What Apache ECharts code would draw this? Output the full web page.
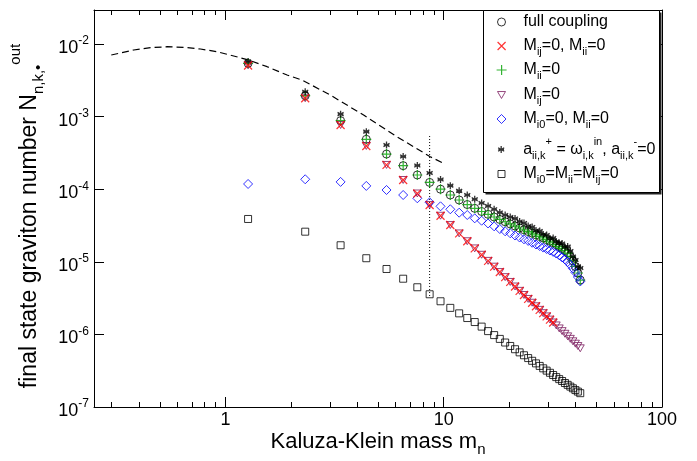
<!DOCTYPE html>
<html><head><meta charset="utf-8">
<script src="https://cdn.jsdelivr.net/npm/echarts@6/dist/echarts.min.js"></script>
<style>html,body{margin:0;padding:0;background:#fff}#c{width:697px;height:461px}</style>
</head><body><div id="c"></div>
<script>
// Kaluza-Klein masses m_n (n = 1..40)
const massN = [1.27, 2.32, 3.37, 4.42, 5.47, 6.52, 7.57, 8.62, 9.67, 10.72,
  11.77, 12.82, 13.87, 14.92, 15.97, 17.02, 18.07, 19.12, 20.17, 21.22,
  22.27, 23.32, 24.37, 25.42, 26.47, 27.52, 28.57, 29.62, 30.67, 31.72,
  32.77, 33.82, 34.87, 35.92, 36.97, 38.02, 39.07, 40.12, 41.17, 42.22];

// full coupling (open circles)
const fullCoupling = [5.42e-3, 1.94e-3, 8.79e-4, 4.87e-4, 3.05e-4, 2.11e-4, 1.57e-4, 1.24e-4, 1.0e-4, 8.32e-5,
  7.1e-5, 6.15e-5, 5.45e-5, 4.93e-5, 4.51e-5, 4.14e-5, 3.83e-5, 3.56e-5, 3.32e-5, 3.11e-5,
  2.92e-5, 2.76e-5, 2.61e-5, 2.48e-5, 2.35e-5, 2.23e-5, 2.13e-5, 2.02e-5, 1.92e-5, 1.83e-5,
  1.73e-5, 1.63e-5, 1.53e-5, 1.43e-5, 1.32e-5, 1.18e-5, 1.03e-5, 8.61e-6, 7.01e-6, 5.61e-6];
// M_ij=0, M_ii=0 (red x)
const mijMii0 = [5.06e-3, 1.79e-3, 7.66e-4, 3.94e-4, 2.16e-4, 1.34e-4, 8.73e-5, 6.06e-5, 4.31e-5, 3.21e-5,
  2.46e-5, 1.92e-5, 1.53e-5, 1.25e-5, 1.03e-5, 8.57e-6, 7.23e-6, 6.15e-6, 5.28e-6, 4.57e-6,
  3.98e-6, 3.49e-6, 3.08e-6, 2.73e-6, 2.44e-6, 2.18e-6, 1.96e-6, 1.77e-6, 1.60e-6, 1.46e-6];
// M_ii=0 (green +)
const mii0 = [5.40e-3, 1.94e-3, 8.79e-4, 4.87e-4, 3.05e-4, 2.11e-4, 1.57e-4, 1.24e-4, 1.0e-4, 8.32e-5,
  7.1e-5, 6.15e-5, 5.45e-5, 4.93e-5, 4.51e-5, 4.14e-5, 3.83e-5, 3.56e-5, 3.32e-5, 3.11e-5,
  2.92e-5, 2.76e-5, 2.61e-5, 2.48e-5, 2.35e-5, 2.23e-5, 2.13e-5, 2.02e-5, 1.92e-5, 1.83e-5,
  1.73e-5, 1.63e-5, 1.53e-5, 1.43e-5, 1.32e-5, 1.18e-5, 1.03e-5, 8.61e-6, 7.01e-6, 5.61e-6];
// M_ij=0 (purple triangles)
const mij0 = [5.10e-3, 1.79e-3, 7.66e-4, 3.94e-4, 2.16e-4, 1.34e-4, 8.73e-5, 6.06e-5, 4.31e-5, 3.21e-5,
  2.46e-5, 1.92e-5, 1.53e-5, 1.25e-5, 1.03e-5, 8.57e-6, 7.23e-6, 6.15e-6, 5.28e-6, 4.57e-6,
  3.98e-6, 3.49e-6, 3.08e-6, 2.73e-6, 2.44e-6, 2.18e-6, 1.96e-6, 1.77e-6, 1.60e-6, 1.46e-6,
  1.33e-6, 1.21e-6, 1.11e-6, 1.02e-6, 9.41e-7, 8.69e-7, 8.04e-7, 7.45e-7, 6.92e-7, 6.44e-7];
// M_i0=0, M_ii=0 (blue diamonds)
const mi0Mii0 = [1.18e-4, 1.37e-4, 1.26e-4, 1.11e-4, 9.75e-5, 8.32e-5, 7.5e-5, 6.6e-5, 5.81e-5, 5.29e-5,
  4.75e-5, 4.41e-5, 3.97e-5, 3.68e-5, 3.37e-5, 3.08e-5, 2.83e-5, 2.63e-5, 2.47e-5, 2.30e-5,
  2.16e-5, 2.04e-5, 1.94e-5, 1.83e-5, 1.73e-5, 1.65e-5, 1.57e-5, 1.50e-5, 1.43e-5, 1.37e-5,
  1.30e-5, 1.23e-5, 1.15e-5, 1.08e-5, 9.94e-6, 9.04e-6, 8.09e-6, 7.13e-6, 6.18e-6, 5.36e-6];
// a+ = omega_in, a- = 0 (asterisks)
const aPlus = [5.74e-3, 2.20e-3, 1.08e-3, 6.2e-4, 4.06e-4, 2.82e-4, 2.12e-4, 1.67e-4, 1.36e-4, 1.12e-4,
  9.5e-5, 8.32e-5, 7.28e-5, 6.45e-5, 5.87e-5, 5.29e-5, 4.78e-5, 4.41e-5, 4.14e-5, 3.95e-5,
  3.59e-5, 3.42e-5, 3.11e-5, 3.01e-5, 2.70e-5, 2.65e-5, 2.38e-5, 2.34e-5, 2.09e-5, 2.13e-5,
  1.90e-5, 1.82e-5, 1.79e-5, 1.60e-5, 1.62e-5, 1.41e-5, 1.18e-5, 1.06e-5, 8.6e-6, 8.22e-6];
// M_i0=M_ii=M_ij=0 (squares)
const allZero = [3.89e-5, 2.60e-5, 1.69e-5, 1.12e-5, 7.96e-6, 5.85e-6, 4.46e-6, 3.57e-6, 2.86e-6, 2.32e-6,
  1.95e-6, 1.68e-6, 1.48e-6, 1.28e-6, 1.11e-6, 9.78e-7, 8.67e-7, 7.73e-7, 6.93e-7, 6.25e-7,
  5.66e-7, 5.16e-7, 4.72e-7, 4.33e-7, 3.99e-7, 3.68e-7, 3.41e-7, 3.17e-7, 2.96e-7, 2.76e-7,
  2.58e-7, 2.42e-7, 2.28e-7, 2.14e-7, 2.02e-7, 1.91e-7, 1.81e-7, 1.71e-7, 1.63e-7, 1.55e-7];

// dashed curve
const dashedM = [0.30, 0.38, 0.454, 0.541, 0.645, 0.768, 0.916, 1.091, 1.278, 1.552, 1.916, 2.244, 3.023, 4.295, 6.107, 8.677, 9.98];
const dashedN = [7.05e-3, 8.27e-3, 8.89e-3, 9.18e-3, 9.01e-3, 8.53e-3, 7.83e-3, 6.84e-3, 6.02e-3, 4.87e-3, 3.74e-3, 3.19e-3, 1.98e-3, 1.05e-3, 5.28e-4, 2.80e-4, 2.27e-4];
// dotted vertical line
const dottedM = [8.62, 8.62];
const dottedN = [5.4e-4, 3.3e-6];

// axis ticks
const xMinorTicks = [0.3, 0.4, 0.5, 0.6, 0.7, 0.8, 0.9, 2, 3, 4, 5, 6, 7, 8, 9, 20, 30, 40, 50, 60, 70, 80, 90];
const X_MIN = 0.25, X_MAX = 100, Y_MIN = 1e-7, Y_MAX = 0.0294;

const FONT = '"Liberation Sans", Arial, Helvetica, sans-serif';
const pairs = (xs, ys) => ys.map((y, i) => [xs[i], y]);

const P_X = 'path://M0,0L10,10M10,0L0,10';
const P_PLUS = 'path://M5,0L5,10M0,5L10,5';
const P_TRI = 'path://M0,0L10,0L5,8.66Z';
const P_STAR = 'path://M5,0L5,10M0.67,2.5L9.33,7.5M0.67,7.5L9.33,2.5M1,5L9,5';
const P_DIAM = 'path://M5,0L10,5L5,10L0,5Z';
const P_RECT = 'path://M0,0L10,0L10,10L0,10Z';

function sc(name, data, symbol, size, color, bw) {
  return {type: 'scatter', name, data, symbol, symbolSize: size, symbolKeepAspect: true,
    itemStyle: {color: 'transparent', borderColor: color, borderWidth: bw},
    silent: true, animation: false, emphasis: {disabled: true}};
}

const legendText = {
  full: 'full coupling',
  rx: '{m|M}{s|ij}{m|=0, M}{s|ii}{m|=0}',
  gp: '{m|M}{s|ii}{m|=0}',
  pt: '{m|M}{s|ij}{m|=0}',
  bd: '{m|M}{s|i0}{m|=0, M}{s|ii}{m|=0}',
  ast: '{m|a}{s|ii,k}{p|+}{m| = ω}{s|i,k}{p|in}{m|, a}{s|ii,k}{p|-}{m|=0}',
  sq: '{m|M}{s|i0}{m|=M}{s|ii}{m|=M}{s|ij}{m|=0}'
};
const legendRich = {
  m: {fontSize: 16, lineHeight: 24, fontFamily: FONT, color: '#000'},
  s: {fontSize: 11, lineHeight: 24, padding: [12, 0, 0, 0], fontFamily: FONT, color: '#000'},
  p: {fontSize: 11, lineHeight: 24, padding: [0, 0, 16, 0], fontFamily: FONT, color: '#000'}
};
const ICON_CX = 501, TEXT_X = 523;
const legendRows = [
  {name: 'full', y: 22, h: 8, bw: 1},
  {name: 'rx', y: 46, h: 8, bw: 1.2},
  {name: 'gp', y: 70, h: 10, bw: 1.2},
  {name: 'pt', y: 95, h: 8, bw: 1},
  {name: 'bd', y: 119, h: 9, bw: 1},
  {name: 'ast', y: 148, h: 7, bw: 1.3},
  {name: 'sq', y: 174, h: 7, bw: 1}
];

const chart = echarts.init(document.getElementById('c'), null, {renderer: 'canvas'});

const xAxisBase = {type: 'log', logBase: 10, min: X_MIN, max: X_MAX,
  axisLine: {show: true, onZero: false, lineStyle: {color: '#000', width: 1}},
  axisTick: {show: true, inside: true, length: 10, lineStyle: {color: '#000', width: 1}},
  splitLine: {show: false}, minorTick: {show: false}};
const yAxisBase = {type: 'log', logBase: 10, min: Y_MIN, max: Y_MAX,
  axisLine: {show: true, onZero: false, lineStyle: {color: '#000', width: 1}},
  axisTick: {show: true, inside: true, length: 10, lineStyle: {color: '#000', width: 1}},
  splitLine: {show: false}, minorTick: {show: false}};

const isPow = v => Math.abs(Math.log10(v) - Math.round(Math.log10(v))) < 1e-6;

const option = {
  animation: false,
  backgroundColor: '#fff',
  grid: {left: 94, right: 35, top: 10, bottom: 54, containLabel: false, outerBoundsMode: 'none', show: false},
  xAxis: [
    Object.assign({}, xAxisBase, {position: 'bottom',
      axisLabel: {show: true, margin: 4, fontSize: 18, fontFamily: FONT, color: '#000',
        formatter: v => isPow(v) ? String(Math.round(v)) : ''}}),
    Object.assign({}, xAxisBase, {position: 'top', axisLabel: {show: false}})
  ],
  yAxis: [
    Object.assign({}, yAxisBase, {position: 'left',
      axisLabel: {show: true, margin: 5, fontFamily: FONT, color: '#000',
        formatter: v => isPow(v) ? '{b|10}{s|' + Math.round(Math.log10(v)) + '}' : '',
        rich: {
          b: {fontSize: 18, fontFamily: FONT, color: '#000', padding: [8, 0, 0, 0]},
          s: {fontSize: 12, fontFamily: FONT, color: '#000', padding: [0, 0, 6, 0]}
        }}}),
    Object.assign({}, yAxisBase, {position: 'right', axisLabel: {show: false}})
  ],
  legend: legendRows.map(r => {
    const left = ICON_CX - r.h / 2;
    const spacer = TEXT_X - (left + r.h + 5);
    const rich = Object.assign({}, legendRich, {sp: {width: spacer, fontSize: 16, lineHeight: 24}});
    const txt = legendText[r.name];
    const body = txt.indexOf('{') === 0 ? txt : '{m|' + txt + '}';
    return {
      show: true, data: [r.name], left: left, top: r.y - 12, padding: 0,
      itemWidth: r.h, itemHeight: r.h, itemGap: 0, orient: 'vertical', selectedMode: false,
      symbolKeepAspect: true,
      formatter: () => '{sp| }' + body,
      itemStyle: {borderWidth: r.bw},
      textStyle: {fontSize: 16, fontFamily: FONT, color: '#000', lineHeight: 24, rich: rich},
      z: 30
    };
  }),
  graphic: [
    {type: 'rect', z: 20, silent: true, shape: {x: 485.5, y: 12.5, width: 176, height: 182}, style: {fill: '#222', stroke: null}},
    {type: 'rect', z: 21, silent: true, shape: {x: 483.5, y: 10.5, width: 176, height: 182}, style: {fill: '#fff', stroke: '#000', lineWidth: 1}},
    {type: 'text', z: 5, silent: true, x: 378, y: 442,
      style: {text: '{m|Kaluza-Klein mass m}{s|n}', align: 'center', verticalAlign: 'middle',
        rich: {m: {fontSize: 22, fontFamily: FONT, fill: '#000', lineHeight: 30},
               s: {fontSize: 15, fontFamily: FONT, fill: '#000', lineHeight: 30, padding: [16, 0, 0, 0]}}}},
    {type: 'text', z: 5, silent: true, x: 30, y: 216, rotation: Math.PI / 2,
      style: {text: '{m|final state graviton number N}{s|n,k,•}{p|out}', align: 'center', verticalAlign: 'middle',
        rich: {m: {fontSize: 23, fontFamily: FONT, fill: '#000', lineHeight: 30},
               s: {fontSize: 15, fontFamily: FONT, fill: '#000', lineHeight: 30, padding: [18, 0, 0, 0]},
               p: {fontSize: 15, fontFamily: FONT, fill: '#000', lineHeight: 30, padding: [0, 0, 28, 0]}}}}
  ],
  series: [
    {type: 'line', name: 'dashed', data: pairs(dashedM, dashedN), showSymbol: false, symbol: 'none', silent: true,
      lineStyle: {color: '#000', width: 1.2, type: [7, 4]}, z: 2},
    {type: 'line', name: 'dotted', data: pairs(dottedM, dottedN), showSymbol: false, symbol: 'none', silent: true,
      lineStyle: {color: '#000', width: 1, type: [1, 2]}, z: 2},
    {type: 'custom', name: 'minorTicks', silent: true, clip: false, z: 3,
      data: xMinorTicks.map(v => [v, Y_MIN]),
      renderItem: (params, api) => {
        const b = api.coord([api.value(0), Y_MIN]);
        const t = api.coord([api.value(0), Y_MAX]);
        const x = Math.round(b[0]) + 0.5;
        return {type: 'group', children: [
          {type: 'line', shape: {x1: x, y1: b[1], x2: x, y2: b[1] - 5}, style: {stroke: '#000', lineWidth: 1}},
          {type: 'line', shape: {x1: x, y1: t[1], x2: x, y2: t[1] + 5}, style: {stroke: '#000', lineWidth: 1}}
        ]};
      }},
    Object.assign(sc('full', pairs(massN, fullCoupling), 'circle', 8, '#000', 1), {z: 4}),
    Object.assign(sc('rx', pairs(massN, mijMii0), P_X, 8, '#ff0000', 1.2), {z: 5}),
    Object.assign(sc('gp', pairs(massN, mii0), P_PLUS, 10, '#00a000', 1.2), {z: 4}),
    Object.assign(sc('pt', pairs(massN, mij0), P_TRI, 8, '#7a1a5e', 1), {z: 4}),
    Object.assign(sc('bd', pairs(massN, mi0Mii0), P_DIAM, 9, '#0000ff', 1), {z: 4}),
    Object.assign(sc('ast', pairs(massN, aPlus), P_STAR, 7, '#000', 1.3), {z: 4}),
    Object.assign(sc('sq', pairs(massN, allZero), P_RECT, 7, '#000', 1), {z: 4})
  ]
};
chart.setOption(option);
</script>
</body></html>
